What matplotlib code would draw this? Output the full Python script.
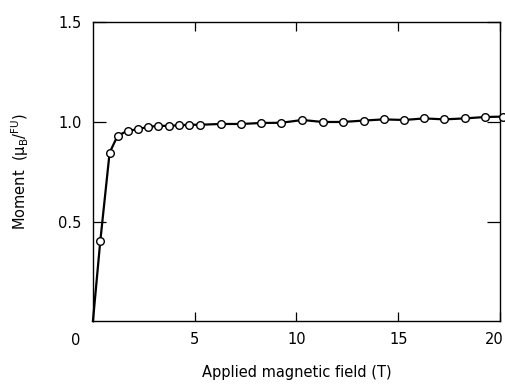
import numpy as np
import matplotlib
matplotlib.use('Agg')
import matplotlib.pyplot as plt
import matplotlib.transforms as mtransforms

# field (T) and moment (muB/FU)
field = [0.36, 0.82, 1.21, 1.70, 2.20, 2.72, 3.21, 3.73, 4.24, 4.72, 5.26,
         6.27, 7.29, 8.27, 9.25, 10.29, 11.29, 12.27, 13.30, 14.28, 15.30,
         16.28, 17.26, 18.28, 19.28, 20.17]
moment = [0.40, 0.846, 0.93, 0.956, 0.963, 0.976, 0.980, 0.981, 0.983, 0.986, 0.986,
          0.990, 0.990, 0.995, 0.996, 1.010, 1.000, 1.000, 1.007, 1.013, 1.010,
          1.018, 1.013, 1.018, 1.025, 1.027]

x_ticks = [5, 10, 15, 20]
y_ticks = [0.5, 1.0, 1.5]

plt.rcParams['font.family'] = 'DejaVu Sans'

fig = plt.figure(figsize=(5.05, 3.86), dpi=100)
ax = fig.add_axes([0.184, 0.168, 0.806, 0.774])

# line starts at origin, no marker there
ax.plot([0] + field, [0] + moment, '-', color='black', lw=1.6, clip_on=False, zorder=2)
ax.plot(field, moment, 'o', mfc='white', mec='black', mew=1.0, ms=5.5,
        clip_on=False, zorder=3)

ax.set_xlim(0, 20)
ax.set_ylim(0, 1.5)

ax.set_xticks(x_ticks)
ax.set_yticks(y_ticks)
ax.set_xticklabels([str(t) for t in x_ticks])
ax.set_yticklabels(['0.5', '1.0', '1.5'])
ax.tick_params(axis='x', direction='in', length=6.5, width=0.9, top=True,
               labelsize=10.5, pad=8)
ax.tick_params(axis='y', direction='in', length=9.5, width=0.9, right=True,
               labelsize=10.5, pad=8)
for s in ax.spines.values():
    s.set_linewidth(1.0)

# keep the "20" inside the figure
last = ax.get_xticklabels()[-1]
last.set_transform(last.get_transform() + mtransforms.ScaledTranslation(-6 / 100, 0, fig.dpi_scale_trans))

# shared corner zero
ax.text(-0.03, -0.04, '0', transform=ax.transAxes, ha='right', va='top', fontsize=10.5)

ax.set_xlabel('Applied magnetic field (T)', fontsize=10.5, labelpad=13)
ax.set_ylabel('Moment  (μ$_\\mathregular{B}$/$^\\mathregular{FU}$)', fontsize=10.5, labelpad=20)

fig.savefig('out.png', dpi=100)
